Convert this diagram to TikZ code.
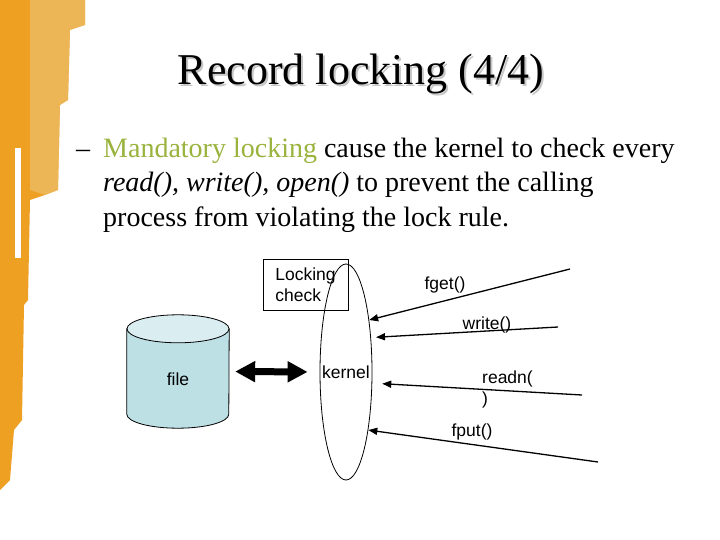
\documentclass[tikz,border=0pt]{standalone}
\usepackage{fontspec}
\setmainfont{Liberation Serif}
\setsansfont{Liberation Sans}
\usetikzlibrary{shapes.geometric, arrows.meta}

\definecolor{mgreen}{RGB}{153,179,61}
\definecolor{cylbody}{RGB}{189,224,229}
\definecolor{cyltop}{RGB}{218,237,241}
\definecolor{orng}{RGB}{238,160,35}
\definecolor{orngpale}{RGB}{236,196,120}

\begin{document}
\begin{tikzpicture}[x=1pt, y=-1pt,
    heading/.style={font=\fontsize{44}{52}\selectfont, inner sep=0pt, anchor=base},
    bodytext/.style={font=\fontsize{28}{34}\selectfont, inner sep=0pt, anchor=base west},
    lbl/.style={font=\sffamily\fontsize{17.5}{21}\selectfont, inner sep=0pt},
    call/.style={-{Triangle[length=9pt,width=7pt]}, line width=1.3pt},
    bigarrow/.style={{Triangle[length=20pt,width=20pt]}-{Triangle[length=20pt,width=20pt]},
      line width=7pt, shorten <=6pt, shorten >=12pt}]
  \fill[white] (0,0) rectangle (720,540);
  \useasboundingbox (0,0) rectangle (720,540);

  % slide border on the left
  \fill[orng] (0,0) -- (85,0) -- (85,25) -- (70,30) -- (68,100) -- (60,105) -- (58,190)
    -- (45,195) -- (30,200) -- (28,300) -- (24,305) -- (22,420) -- (14,430) -- (10,480)
    -- (0,490) -- cycle;
  \fill[orngpale, opacity=0.6] (30,0) -- (85,0) -- (85,25) -- (70,30) -- (68,100)
    -- (60,105) -- (58,190) -- (45,195) -- (30,190) -- cycle;
  \fill[white] (15,148) rectangle (21,258);

  % title and text
  \node[heading, text=black!22] (titleshadow) at (363,87) {Record locking (4/4)};
  \node[heading] (title) at (361,85) {Record locking (4/4)};
  \node[bodytext] (dash) at (76,158) {--};
  \node[bodytext] (line1) at (103,158) {\textcolor{mgreen}{Mandatory locking} cause the kernel to check every};
  \node[bodytext] (line2) at (103,192) {\textit{read(), write(), open()} to prevent the calling};
  \node[bodytext] (line3) at (103,226) {process from violating the lock rule.};

  % file drum
  \node[minimum width=102pt, minimum height=113pt, inner sep=0pt] (file) at (178,371.5) {};
  \filldraw[fill=cylbody, line width=0.8pt] ([yshift=-14pt]file.north west)
    -- ([yshift=14pt]file.south west)
    arc[start angle=180, end angle=360, x radius=51pt, y radius=14pt]
    -- ([yshift=-14pt]file.north east) -- cycle;
  \filldraw[fill=cyltop, line width=0.8pt] ([yshift=-14pt]file.north)
    ellipse[x radius=51pt, y radius=14pt];
  \node[lbl] (filelbl) at ([yshift=-8pt]file.center) {file};

  \node[ellipse, draw, line width=0.8pt, minimum width=52pt, minimum height=216pt,
    inner sep=0pt, label={[lbl]center:kernel}] (kernel) at (346,372) {};
  \node[draw, line width=0.8pt, lbl, align=left, minimum width=85pt, minimum height=51pt]
    (lock) at (305.5,284.5) {Locking\\check};

  \draw[bigarrow] (file.east) -- (kernel.west);

  \coordinate (fgetsrc) at (570,269);
  \coordinate (writesrc) at (558,327);
  \coordinate (readnsrc) at (582,395);
  \coordinate (fputsrc) at (598,462);

  \draw[call] (fgetsrc) -- (kernel.66);
  \draw[call, shorten >=5pt] (writesrc) -- (kernel.54);
  \draw[call, shorten >=10pt] (readnsrc) -- (kernel.-23);
  \draw[call] (fputsrc) -- (kernel.-69);

  \node[lbl] (fget) at (445,285) {fget()};
  \node[lbl] (write) at (487,325) {write()};
  \node[lbl, align=left, anchor=north west] (readn) at (482,371) {readn(\\)};
  \node[lbl] (fput) at (472,432) {fput()};
\end{tikzpicture}
\end{document}
